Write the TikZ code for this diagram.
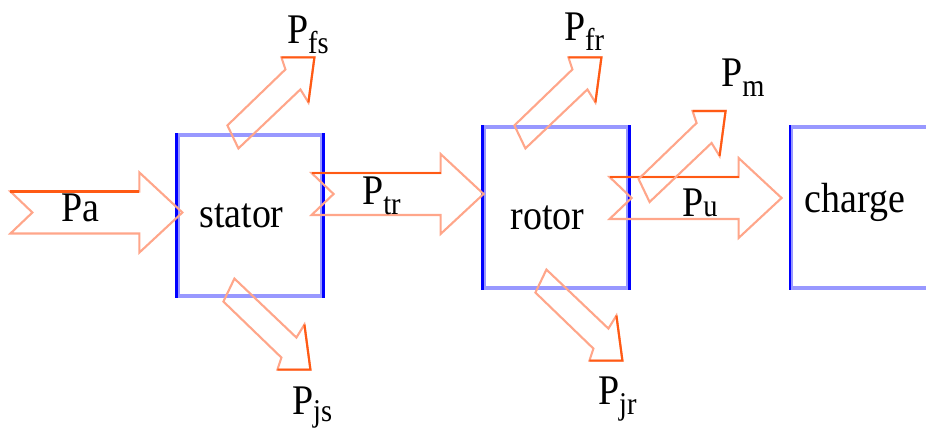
\documentclass[tikz,border=0pt]{standalone}
\usepackage{fontspec}
\setmainfont{Liberation Serif}
\usetikzlibrary{positioning,calc}
\definecolor{flowlight}{HTML}{FFA68A}
\definecolor{flowdark}{HTML}{FF5A14}
\definecolor{sideblue}{HTML}{0000FF}
\definecolor{rimblue}{HTML}{9898FF}
\newcommand{\psub}[2][2.8pt]{P\raisebox{-#1}{\fontsize{9}{10}\selectfont #2}}
\tikzset{
  box/.style={draw=rimblue, line width=0.9pt, rectangle, minimum width=1.44cm, minimum height=1.61cm, inner sep=0pt},
  side/.style={draw=sideblue, line width=0.7pt},
  txt/.style={font=\fontsize{12}{14}\selectfont, xscale=0.9, inner sep=0pt},
  flow/.style={draw=flowlight, line width=0.6pt, line join=miter},
  flowtop/.style={draw=flowdark, line width=0.6pt},
  hollowarrow/.pic={
    \draw[flow] (0,0.21) -- (1.29,0.21) -- (1.29,0.40) -- (1.72,0) -- (1.29,-0.40) -- (1.29,-0.21) -- (0,-0.21) -- (0.22,0) -- cycle;
    \draw[flowtop] (0,0.21) -- (1.29,0.21);
    \coordinate (-tail) at (0,0);
  },
  slantarrow/.pic={
    \draw[flow] (0,0) -- (-0.11,0.23) -- (0.47,0.79) -- (0.43,0.91) -- (0.76,0.91) -- (0.70,0.46) -- (0.62,0.59) -- (0.20,0.19) -- cycle;
    \draw[flowtop] (0.43,0.91) -- (0.76,0.91) -- (0.70,0.46);
    \coordinate (-tip) at (0.76,0.91);
  },
}
\begin{document}
\begin{tikzpicture}[x=1cm,y=1cm]
\useasboundingbox (0,0) rectangle (9.26,4.30);
% the three blocks
\node[box, label={[txt, xshift=-0.95mm]center:stator}] (stator) at (2.50,2.145) {};
\node[box, label={[txt, xshift=-0.95mm, yshift=-1mm]center:rotor}] (rotor) at (5.56,2.225) {};
\node[box, minimum width=1.7cm, anchor=west, label={[txt, xshift=-2.4mm, yshift=0.5mm]center:charge}] (charge) at (7.90,2.225) {};
\draw[side] (stator.north west) -- (stator.south west) (stator.north east) -- (stator.south east);
\draw[side] (rotor.north west) -- (rotor.south west) (rotor.north east) -- (rotor.south east);
\draw[side] (charge.north west) -- (charge.south west);
% power flow
\pic (pa) at ([shift={(-1.66,0.03)}]stator.west) {hollowarrow};
\pic (tr) at ([shift={(-0.12,0.215)}]stator.east) {hollowarrow};
\pic (pu) at ([shift={(-0.20,0.095)}]rotor.east) {hollowarrow};
% losses
\pic (fs) at ([shift={(0.62,-0.15)}]stator.north west) {slantarrow};
\pic (fr) at ([shift={(0.43,-0.23)}]rotor.north west) {slantarrow};
\pic (pm) at ([shift={(0.20,0.055)}]rotor.east) {slantarrow};
\pic[yscale=-1] (js) at ([shift={(0.58,0.19)}]stator.south west) {slantarrow};
\pic[yscale=-1] (jr) at ([shift={(0.64,0.20)}]rotor.south west) {slantarrow};
\node[txt, anchor=base west] (lpa) at ([shift={(0.50,-0.095)}]pa-tail) {Pa};
\node[txt, anchor=base west] (ltr) at ([shift={(0.50,-0.11)}]tr-tail) {\psub{tr}};
\node[txt, anchor=base west] (lpu) at ([shift={(0.72,-0.19)}]pu-tail) {\psub[0pt]{u}};
\node[txt, anchor=base west] (lfs) at ([shift={(-0.28,0.14)}]fs-tip) {\psub{fs}};
\node[txt, anchor=base west] (lfr) at ([shift={(-0.38,0.17)}]fr-tip) {\psub{fr}};
\node[txt, anchor=base west] (lpm) at ([shift={(-0.05,0.24)}]pm-tip) {\psub{m}};
\node[txt, anchor=base west] (ljs) at ([shift={(-0.19,-0.45)}]js-tip) {\psub[2pt]{js}};
\node[txt, anchor=base west] (ljr) at ([shift={(-0.25,-0.44)}]jr-tip) {\psub{jr}};
\end{tikzpicture}
\end{document}
